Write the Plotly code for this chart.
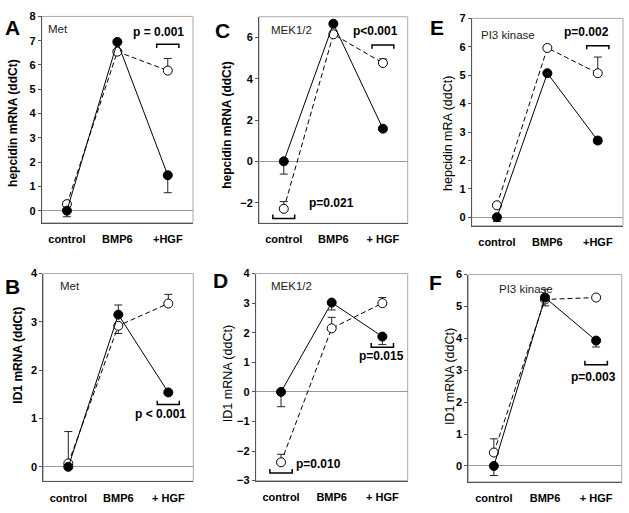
import plotly.graph_objects as go

# ---------------- data ----------------
panels = ["A", "C", "E", "B", "D", "F"]
inhibitors = ["Met", "MEK1/2", "PI3 kinase", "Met", "MEK1/2", "PI3 kinase"]
y_titles = ["hepcidin mRNA (ddCt)", "hepcidin mRNA (ddCt)", "hepcidin mRA (ddCt)",
            "ID1 mRNA (ddCt)", "ID1 mRNA (ddCt)", "ID1 mRNA (ddCt)"]
x_labels = [["control", "BMP6", "+HGF"], ["control", "BMP6", "+ HGF"], ["control", "BMP6", "+HGF"],
            ["control", "BMP6", "+ HGF"], ["control", "BMP6", "+ HGF"], ["control", "BMP6", "+ HGF"]]

# filled circles (solid line)
filled_y = [[0.0, 6.95, 1.46], [0.0, 6.66, 1.58], [0.0, 5.07, 2.70],
            [0.0, 3.15, 1.54], [0.0, 3.02, 1.87], [0.0, 5.28, 3.93]]
filled_up = [[0, 0, 0], [0, 0, 0], [0, 0, 0],
             [0, 0.20, 0], [0, 0, 0], [0, 0.26, 0]]
filled_dn = [[0.25, 0, 0.72], [0.62, 0, 0.08], [0.15, 0.08, 0.10],
             [0, 0, 0.05], [0.50, 0.25, 0.27], [0.30, 0, 0.20]]

# open circles (dashed line)
open_y = [[0.27, 6.55, 5.77], [-2.30, 6.15, 4.76], [0.42, 5.96, 5.07],
          [0.07, 2.92, 3.38], [-2.38, 2.15, 3.00], [0.42, 5.22, 5.28]]
open_up = [[0, 0, 0.50], [0.35, 0.15, 0.20], [0, 0.05, 0.57],
           [0.66, 0, 0.19], [0.27, 0.37, 0.19], [0.43, 0, 0]]
open_dn = [[0, 0, 0], [0, 0, 0], [0, 0, 0],
           [0, 0.16, 0], [0, 0, 0], [0, 0.20, 0]]

y_ranges = [[-0.5, 8], [-3, 7], [-0.3, 7], [-0.3, 4], [-3, 4], [-0.5, 6]]
y_ticks = [list(range(0, 9)), [-2, 0, 2, 4, 6], list(range(0, 8)),
           list(range(0, 5)), list(range(-3, 5)), list(range(0, 7))]

# significance: (panel index, category, bracket y, tick dy, text, text x, text y)
p_values = [(0, 2, 6.85, -0.15, "p = 0.001", 1.82, 7.35),
            (1, 2, 5.63, -0.18, "p<0.001", 1.86, 6.30),
            (1, 0, -2.77, 0.20, "p=0.021", 0.97, -2.00),
            (2, 2, 6.04, -0.13, "p=0.002", 1.77, 6.52),
            (3, 2, 1.29, 0.08, "p < 0.001", 1.85, 1.10),
            (4, 0, -2.74, 0.13, "p=0.010", 0.74, -2.45),
            (4, 2, 1.51, 0.14, "p=0.015", 1.98, 1.21),
            (5, 2, 3.17, 0.13, "p=0.003", 1.94, 2.79)]

# inhibitor label positions (x in category units, y in data units, anchor)
inh_pos = [(-0.41, 7.5, "left"), (-0.30, 6.35, "left"), (-0.36, 6.43, "left"),
           (-0.20, 3.74, "left"), (-0.23, 3.58, "left"), (0.07, 5.54, "left")]

# ---------------- layout geometry (pixels) ----------------
W, H = 629, 513
boxes = [(41.7, 193.0, 10.7, 222.0), (259.0, 407.7, 11.0, 222.5), (471.7, 623.0, 12.7, 225.0),
         (43.3, 193.3, 274.0, 486.7), (255.7, 407.7, 274.0, 486.0), (468.3, 621.7, 275.0, 487.3)]
letter_pos = [(13, 22), (222, 25), (437, 22), (13, 287), (220, 281), (435, 283)]
ytitle_pos = [(12.7, 120), (226.7, 122), (448, 130), (18, 358), (228, 377), (450, 380)]
ytitle_bold = [True, True, False, True, False, False]

FONT = "Liberation Sans, Arial, sans-serif"
fig = go.Figure()
shapes, annotations = [], []
layout = {}

for i in range(6):
    k = "" if i == 0 else str(i + 1)
    xa, ya = "x" + k, "y" + k
    x0, x1, y0, y1 = boxes[i]
    cats = [0, 1, 2]
    # open series
    fig.add_trace(go.Scatter(
        x=cats, y=open_y[i], xaxis=xa, yaxis=ya, mode="lines+markers",
        line=dict(color="black", width=1, dash="5px,3px"),
        marker=dict(symbol="circle", size=9, color="white", line=dict(color="black", width=1)),
        error_y=dict(type="data", symmetric=False, array=open_up[i], arrayminus=open_dn[i],
                     color="#222", thickness=1, width=4),
        showlegend=False, cliponaxis=False))
    # filled series
    fig.add_trace(go.Scatter(
        x=cats, y=filled_y[i], xaxis=xa, yaxis=ya, mode="lines+markers",
        line=dict(color="black", width=1),
        marker=dict(symbol="circle", size=9, color="black", line=dict(color="black", width=1)),
        error_y=dict(type="data", symmetric=False, array=filled_up[i], arrayminus=filled_dn[i],
                     color="#222", thickness=1, width=4),
        showlegend=False, cliponaxis=False))

    layout["xaxis" + k] = dict(
        domain=[x0 / W, x1 / W], range=[-0.5, 2.5], anchor=ya,
        tickvals=cats, ticktext=x_labels[i], showgrid=False, zeroline=False,
        showline=True, linecolor="#555", linewidth=1, ticks="", ticklabelstandoff=6,
        tickfont=dict(family=FONT, size=11, color="black", weight="bold"), fixedrange=True)
    layout["yaxis" + k] = dict(
        domain=[1 - y1 / H, 1 - y0 / H], range=y_ranges[i], anchor=xa,
        tickvals=y_ticks[i], showgrid=False, zeroline=True, zerolinecolor="#999",
        zerolinewidth=1, showline=True, linecolor="#555", linewidth=1,
        ticks="outside", ticklen=3, tickcolor="#555",
        tickfont=dict(family=FONT, size=11, color="black", weight="bold"), fixedrange=True)

    # light box frame (top & right)
    shapes.append(dict(type="rect", xref=xa + " domain", yref=ya + " domain",
                       x0=0, x1=1, y0=0, y1=1, line=dict(color="#aaa", width=1), layer="below"))

    annotations.append(dict(text=panels[i], x=letter_pos[i][0] / W, y=1 - letter_pos[i][1] / H,
                            xref="paper", yref="paper", showarrow=False, xanchor="center", yanchor="middle",
                            font=dict(family=FONT, size=21, color="black", weight="bold")))
    annotations.append(dict(text=y_titles[i], x=ytitle_pos[i][0] / W, y=1 - ytitle_pos[i][1] / H,
                            xref="paper", yref="paper", showarrow=False, textangle=-90,
                            xanchor="center", yanchor="middle",
                            font=dict(family=FONT, size=12 if ytitle_bold[i] else 12.5, color="black",
                                      weight="bold" if ytitle_bold[i] else "normal")))
    ix, iy, anc = inh_pos[i]
    annotations.append(dict(text=inhibitors[i], x=ix, y=iy, xref=xa, yref=ya, showarrow=False,
                            xanchor=anc, yanchor="middle",
                            font=dict(family=FONT, size=11.5, color="#222")))

for (pi, cat, by, dy, txt, tx, ty) in p_values:
    k = "" if pi == 0 else str(pi + 1)
    xa, ya = "x" + k, "y" + k
    hw = 0.22
    path = (f"M {cat - hw},{by + dy} L {cat - hw},{by} L {cat + hw},{by} L {cat + hw},{by + dy}")
    shapes.append(dict(type="path", xref=xa, yref=ya, path=path,
                       line=dict(color="black", width=1.5)))
    annotations.append(dict(text=txt, x=tx, y=ty, xref=xa, yref=ya, showarrow=False,
                            xanchor="center", yanchor="middle",
                            font=dict(family=FONT, size=12, color="black", weight="bold")))

fig.update_layout(
    width=W, height=H, margin=dict(l=0, r=0, t=0, b=0),
    paper_bgcolor="white", plot_bgcolor="white", hovermode=False,
    shapes=shapes, annotations=annotations, **layout)

fig.write_html("out.html", config={"displayModeBar": False, "staticPlot": True},
               post_script="document.body.style.margin='0';document.body.style.overflow='hidden';")
